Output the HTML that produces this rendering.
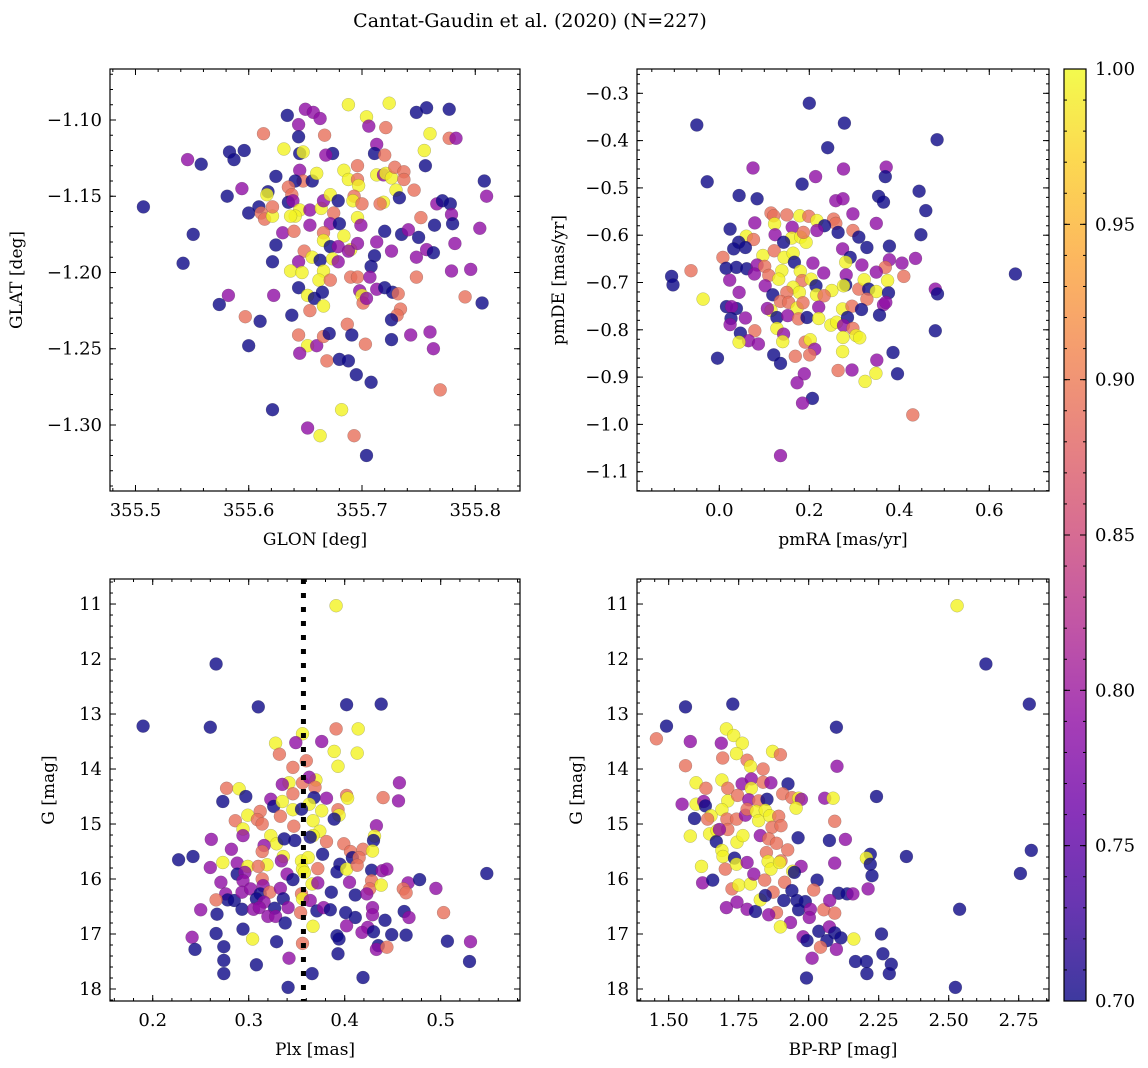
<!DOCTYPE html>
<html><head><meta charset="utf-8">
<style>
html,body{margin:0;padding:0;background:#fff;}
svg{display:block;font-family:"DejaVu Serif","Liberation Serif",serif;}
</style></head>
<body>
<svg id="fig" width="1148" height="1068" viewBox="0 0 1148 1068" xmlns="http://www.w3.org/2000/svg">
<defs>
<linearGradient id="plasmaGrad" x1="0" y1="1" x2="0" y2="0">
<stop offset="0" stop-color="#0d0887"/><stop offset="0.1" stop-color="#41049d"/><stop offset="0.2" stop-color="#6a00a8"/><stop offset="0.3" stop-color="#8f0da4"/><stop offset="0.4" stop-color="#b12a90"/><stop offset="0.5" stop-color="#cc4778"/><stop offset="0.6" stop-color="#e16462"/><stop offset="0.7" stop-color="#f2844b"/><stop offset="0.8" stop-color="#fca636"/><stop offset="0.9" stop-color="#fcce25"/><stop offset="1" stop-color="#f0f921"/>
</linearGradient>
</defs>
<text x="530" y="27" font-size="19" text-anchor="middle">Cantat-Gaudin et al. (2020) (N=227)</text>
</svg>
<script>
const N=0.70,P=0.79,S=0.89,Y=0.995;
const panel1Points=[[355.507,-1.157,N],[355.546,-1.126,P],[355.558,-1.129,N],[355.551,-1.175,N],[355.542,-1.194,N],[355.583,-1.121,N],[355.587,-1.126,N],[355.596,-1.120,N],[355.581,-1.150,N],[355.594,-1.145,P],[355.600,-1.161,N],[355.609,-1.157,N],[355.611,-1.161,S],[355.614,-1.165,S],[355.613,-1.109,S],[355.617,-1.147,N],[355.616,-1.149,Y],[355.621,-1.163,Y],[355.621,-1.157,S],[355.624,-1.137,N],[355.624,-1.182,N],[355.621,-1.193,N],[355.634,-1.097,N],[355.644,-1.103,P],[355.650,-1.093,P],[355.657,-1.095,P],[355.663,-1.099,P],[355.644,-1.111,N],[355.631,-1.119,Y],[355.645,-1.122,N],[355.648,-1.121,Y],[355.667,-1.110,S],[355.674,-1.122,N],[355.668,-1.123,P],[355.645,-1.133,P],[355.648,-1.140,S],[355.656,-1.140,N],[355.660,-1.135,Y],[355.641,-1.140,N],[355.635,-1.144,S],[355.638,-1.149,S],[355.635,-1.154,N],[355.639,-1.153,P],[355.645,-1.159,Y],[355.641,-1.163,Y],[355.637,-1.163,Y],[355.630,-1.174,P],[355.640,-1.173,S],[355.654,-1.159,P],[355.654,-1.169,P],[355.664,-1.158,Y],[355.666,-1.153,P],[355.672,-1.149,Y],[355.675,-1.161,S],[355.679,-1.153,N],[355.684,-1.133,Y],[355.688,-1.139,Y],[355.696,-1.139,S],[355.697,-1.143,Y],[355.696,-1.130,S],[355.693,-1.150,S],[355.692,-1.153,Y],[355.700,-1.155,S],[355.696,-1.164,Y],[355.699,-1.169,P],[355.672,-1.168,P],[355.680,-1.168,N],[355.666,-1.174,S],[355.684,-1.176,Y],[355.666,-1.179,Y],[355.672,-1.183,N],[355.679,-1.183,P],[355.690,-1.185,Y],[355.696,-1.181,P],[355.688,-1.186,P],[355.649,-1.186,S],[355.644,-1.193,P],[355.656,-1.190,Y],[355.663,-1.192,N],[355.674,-1.191,Y],[355.679,-1.193,P],[355.666,-1.199,Y],[355.637,-1.199,Y],[355.647,-1.200,Y],[355.662,-1.205,Y],[355.672,-1.205,S],[355.644,-1.210,N],[355.622,-1.215,P],[355.652,-1.215,Y],[355.658,-1.217,N],[355.665,-1.213,N],[355.666,-1.222,Y],[355.654,-1.225,S],[355.638,-1.228,N],[355.610,-1.232,N],[355.597,-1.229,S],[355.582,-1.215,P],[355.574,-1.221,N],[355.600,-1.248,N],[355.644,-1.241,S],[355.652,-1.248,Y],[355.660,-1.248,P],[355.645,-1.253,P],[355.666,-1.242,S],[355.671,-1.240,N],[355.669,-1.258,S],[355.680,-1.257,N],[355.688,-1.258,N],[355.687,-1.234,S],[355.691,-1.241,N],[355.703,-1.247,S],[355.695,-1.267,N],[355.708,-1.272,N],[355.621,-1.290,N],[355.652,-1.302,P],[355.663,-1.307,Y],[355.682,-1.290,Y],[355.693,-1.307,S],[355.704,-1.320,N],[355.688,-1.090,Y],[355.704,-1.098,Y],[355.706,-1.104,P],[355.721,-1.105,S],[355.724,-1.089,Y],[355.713,-1.116,P],[355.711,-1.122,N],[355.720,-1.123,S],[355.713,-1.136,Y],[355.719,-1.136,P],[355.721,-1.135,Y],[355.726,-1.138,Y],[355.729,-1.131,S],[355.737,-1.134,S],[355.737,-1.139,S],[355.730,-1.146,Y],[355.733,-1.151,N],[355.719,-1.154,Y],[355.716,-1.155,S],[355.720,-1.173,N],[355.735,-1.175,N],[355.741,-1.172,P],[355.750,-1.177,N],[355.713,-1.180,P],[355.726,-1.186,P],[355.711,-1.189,N],[355.708,-1.196,N],[355.690,-1.203,S],[355.696,-1.203,S],[355.707,-1.203,P],[355.698,-1.212,P],[355.700,-1.215,Y],[355.701,-1.220,S],[355.704,-1.217,P],[355.713,-1.211,P],[355.720,-1.210,N],[355.727,-1.213,N],[355.732,-1.214,S],[355.734,-1.224,S],[355.731,-1.228,S],[355.726,-1.231,N],[355.726,-1.244,N],[355.743,-1.241,P],[355.748,-1.203,S],[355.748,-1.190,P],[355.757,-1.185,P],[355.763,-1.187,N],[355.764,-1.169,N],[355.752,-1.164,S],[355.746,-1.146,S],[355.748,-1.095,N],[355.757,-1.092,N],[355.777,-1.093,N],[355.760,-1.109,Y],[355.755,-1.120,Y],[355.756,-1.130,N],[355.777,-1.112,S],[355.783,-1.112,P],[355.766,-1.155,P],[355.771,-1.153,N],[355.778,-1.155,N],[355.779,-1.162,P],[355.780,-1.168,N],[355.782,-1.181,P],[355.779,-1.199,P],[355.796,-1.198,P],[355.791,-1.216,S],[355.804,-1.171,P],[355.806,-1.220,N],[355.808,-1.140,N],[355.810,-1.150,P],[355.760,-1.239,P],[355.763,-1.250,P],[355.769,-1.277,S]];
const panel2Points=[[-0.050,-0.367,N],[0.200,-0.321,N],[0.278,-0.363,N],[0.241,-0.415,N],[0.484,-0.398,N],[-0.027,-0.487,N],[0.075,-0.458,P],[0.214,-0.476,P],[0.184,-0.492,N],[0.276,-0.460,P],[0.371,-0.456,P],[0.369,-0.476,N],[0.044,-0.516,N],[0.084,-0.523,N],[0.354,-0.518,N],[0.365,-0.530,N],[0.259,-0.527,P],[0.275,-0.523,P],[0.444,-0.507,N],[0.459,-0.548,N],[0.448,-0.599,N],[0.297,-0.555,P],[0.349,-0.575,P],[0.115,-0.553,S],[0.121,-0.559,S],[0.150,-0.557,S],[0.179,-0.559,Y],[0.199,-0.560,S],[0.217,-0.569,Y],[0.254,-0.566,S],[0.259,-0.575,S],[0.234,-0.580,N],[0.079,-0.574,P],[0.123,-0.576,Y],[0.162,-0.583,P],[0.217,-0.590,P],[0.264,-0.594,N],[0.297,-0.590,S],[0.024,-0.587,N],[0.060,-0.602,Y],[0.076,-0.609,S],[0.043,-0.615,N],[0.032,-0.629,N],[0.058,-0.626,N],[0.124,-0.599,P],[0.161,-0.606,Y],[0.181,-0.604,Y],[0.193,-0.615,Y],[0.187,-0.594,S],[0.143,-0.615,N],[0.310,-0.604,N],[0.328,-0.626,N],[0.378,-0.623,N],[0.274,-0.629,P],[0.291,-0.647,N],[0.008,-0.647,S],[0.097,-0.643,Y],[0.122,-0.633,S],[0.144,-0.647,Y],[0.164,-0.638,Y],[0.167,-0.657,N],[0.208,-0.659,P],[0.281,-0.657,Y],[0.317,-0.663,P],[0.436,-0.649,P],[0.406,-0.659,P],[0.378,-0.652,P],[0.369,-0.668,S],[-0.063,-0.675,S],[-0.106,-0.687,N],[-0.103,-0.705,N],[0.015,-0.670,N],[0.038,-0.668,N],[0.061,-0.671,N],[0.084,-0.663,P],[0.078,-0.682,P],[0.101,-0.666,S],[0.110,-0.685,S],[0.139,-0.675,Y],[0.132,-0.693,Y],[0.180,-0.676,Y],[0.184,-0.696,S],[0.204,-0.693,Y],[0.232,-0.680,P],[0.282,-0.684,P],[0.349,-0.678,P],[0.374,-0.696,Y],[0.410,-0.687,S],[0.023,-0.695,P],[0.044,-0.721,P],[0.102,-0.707,P],[0.119,-0.726,N],[0.164,-0.710,Y],[0.178,-0.721,Y],[0.150,-0.721,S],[0.215,-0.707,N],[0.216,-0.726,Y],[0.250,-0.717,Y],[0.233,-0.728,S],[0.281,-0.705,N],[0.276,-0.707,Y],[0.310,-0.714,S],[0.322,-0.694,Y],[0.332,-0.714,N],[0.349,-0.719,Y],[0.376,-0.722,N],[0.328,-0.735,S],[0.480,-0.714,P],[0.485,-0.724,N],[-0.036,-0.735,Y],[0.016,-0.751,N],[0.038,-0.755,N],[0.027,-0.751,P],[0.136,-0.740,S],[0.154,-0.742,S],[0.115,-0.759,Y],[0.107,-0.755,P],[0.173,-0.754,Y],[0.186,-0.743,S],[0.221,-0.752,P],[0.274,-0.756,Y],[0.295,-0.750,S],[0.316,-0.757,N],[0.365,-0.747,P],[0.356,-0.769,N],[0.370,-0.742,P],[0.026,-0.776,N],[0.058,-0.775,P],[0.128,-0.774,N],[0.152,-0.770,P],[0.176,-0.777,S],[0.195,-0.774,N],[0.221,-0.776,Y],[0.248,-0.790,Y],[0.261,-0.784,Y],[0.285,-0.774,N],[0.024,-0.789,P],[0.128,-0.797,Y],[0.143,-0.809,P],[0.276,-0.791,P],[0.297,-0.797,S],[0.304,-0.812,Y],[0.312,-0.817,Y],[0.275,-0.816,Y],[0.047,-0.807,N],[0.079,-0.802,S],[0.065,-0.823,P],[0.044,-0.826,Y],[0.087,-0.830,P],[0.141,-0.825,Y],[0.191,-0.826,S],[0.202,-0.821,Y],[0.212,-0.841,P],[0.201,-0.853,S],[0.169,-0.856,S],[0.121,-0.853,N],[0.136,-0.871,N],[-0.004,-0.860,N],[0.274,-0.846,Y],[0.386,-0.848,N],[0.350,-0.864,P],[0.480,-0.802,N],[0.264,-0.886,S],[0.295,-0.885,P],[0.348,-0.892,Y],[0.324,-0.909,Y],[0.396,-0.893,N],[0.189,-0.893,P],[0.173,-0.912,P],[0.207,-0.945,N],[0.185,-0.955,P],[0.430,-0.980,S],[0.136,-1.066,P],[0.658,-0.682,N]];
const panel3Points=[[0.190,13.22,N],[0.266,12.09,N],[0.260,13.24,N],[0.310,12.87,N],[0.402,12.83,N],[0.438,12.82,N],[0.391,11.03,Y],[0.356,13.36,Y],[0.414,13.27,Y],[0.391,13.27,S],[0.376,13.50,P],[0.349,13.52,P],[0.328,13.53,Y],[0.332,13.73,S],[0.389,13.68,Y],[0.413,13.71,Y],[0.393,13.95,Y],[0.346,13.97,S],[0.360,13.85,S],[0.370,14.20,Y],[0.342,14.25,Y],[0.335,14.28,P],[0.356,14.25,S],[0.363,14.15,P],[0.369,14.33,S],[0.457,14.25,P],[0.277,14.35,S],[0.290,14.36,Y],[0.297,14.50,N],[0.273,14.59,N],[0.323,14.55,P],[0.326,14.68,N],[0.335,14.59,Y],[0.346,14.45,S],[0.368,14.52,N],[0.363,14.64,Y],[0.381,14.53,P],[0.402,14.48,S],[0.403,14.53,Y],[0.440,14.52,S],[0.456,14.58,P],[0.299,14.84,Y],[0.312,14.77,S],[0.309,14.92,S],[0.314,15.00,S],[0.286,14.94,S],[0.333,14.86,S],[0.346,14.74,Y],[0.355,14.73,N],[0.376,14.76,Y],[0.367,14.94,Y],[0.393,14.74,S],[0.394,14.84,Y],[0.389,14.91,N],[0.294,15.09,Y],[0.294,15.21,P],[0.347,15.04,S],[0.374,15.13,Y],[0.367,15.21,Y],[0.433,15.03,P],[0.431,15.22,Y],[0.430,15.30,N],[0.323,15.21,Y],[0.329,15.36,Y],[0.337,15.27,N],[0.348,15.30,N],[0.364,15.24,N],[0.381,15.32,S],[0.399,15.36,S],[0.261,15.28,P],[0.282,15.46,P],[0.316,15.39,P],[0.314,15.50,S],[0.336,15.59,Y],[0.334,15.67,P],[0.355,15.67,Y],[0.362,15.61,Y],[0.377,15.55,N],[0.406,15.50,S],[0.408,15.61,N],[0.419,15.46,S],[0.415,15.61,S],[0.429,15.49,Y],[0.227,15.65,N],[0.242,15.59,N],[0.273,15.70,Y],[0.260,15.79,P],[0.288,15.71,P],[0.299,15.77,Y],[0.319,15.74,Y],[0.310,15.77,S],[0.356,15.82,Y],[0.372,15.81,S],[0.395,15.73,N],[0.392,15.87,N],[0.402,15.82,Y],[0.413,15.75,S],[0.428,15.84,N],[0.439,15.85,P],[0.444,15.82,P],[0.288,15.91,N],[0.296,15.88,P],[0.294,16.03,P],[0.314,16.00,S],[0.315,16.12,P],[0.340,15.91,P],[0.346,16.01,N],[0.358,15.88,Y],[0.366,16.09,Y],[0.372,16.07,P],[0.405,16.06,P],[0.428,16.03,S],[0.426,16.18,S],[0.438,16.11,Y],[0.466,16.07,P],[0.478,16.01,N],[0.548,15.90,N],[0.271,16.06,P],[0.276,16.27,P],[0.278,16.38,N],[0.285,16.39,N],[0.293,16.24,P],[0.302,16.18,P],[0.312,16.27,N],[0.308,16.36,N],[0.322,16.24,S],[0.333,16.17,P],[0.316,16.42,P],[0.336,16.36,N],[0.355,16.27,S],[0.356,16.36,Y],[0.364,16.39,P],[0.386,16.24,N],[0.411,16.29,N],[0.423,16.27,P],[0.461,16.18,S],[0.464,16.25,S],[0.495,16.17,P],[0.266,16.38,S],[0.250,16.56,P],[0.267,16.64,N],[0.293,16.55,N],[0.305,16.55,P],[0.311,16.52,P],[0.327,16.53,N],[0.320,16.68,P],[0.328,16.68,P],[0.341,16.52,P],[0.338,16.80,N],[0.354,16.61,S],[0.371,16.58,N],[0.378,16.52,P],[0.385,16.56,N],[0.401,16.61,N],[0.411,16.70,N],[0.429,16.52,P],[0.429,16.65,P],[0.442,16.75,N],[0.462,16.59,N],[0.467,16.70,P],[0.503,16.61,S],[0.367,16.86,Y],[0.402,16.85,P],[0.424,16.88,P],[0.418,16.97,P],[0.430,16.96,N],[0.449,17.01,N],[0.464,17.02,N],[0.392,17.03,N],[0.394,17.09,N],[0.266,16.99,N],[0.294,16.91,N],[0.241,17.06,P],[0.304,17.09,Y],[0.329,17.14,N],[0.356,17.17,S],[0.244,17.28,N],[0.274,17.23,N],[0.274,17.48,N],[0.274,17.72,N],[0.308,17.56,N],[0.342,17.44,P],[0.393,17.36,N],[0.435,17.21,N],[0.433,17.28,P],[0.444,17.24,S],[0.507,17.13,N],[0.531,17.14,P],[0.530,17.50,N],[0.366,17.72,N],[0.419,17.79,N],[0.341,17.97,N]];
const panel4Points=[[2.530,11.03,Y],[2.633,12.09,N],[2.788,12.82,N],[1.560,12.87,N],[1.729,12.82,N],[1.492,13.22,N],[2.099,13.24,N],[1.456,13.45,S],[1.577,13.50,P],[1.688,13.53,P],[1.706,13.27,Y],[1.732,13.39,Y],[1.763,13.53,Y],[1.742,13.72,Y],[1.693,13.80,S],[1.780,13.84,S],[1.792,13.95,Y],[1.837,14.00,S],[1.871,13.68,Y],[1.899,13.74,S],[2.101,13.95,P],[1.560,13.94,S],[1.598,14.25,Y],[1.633,14.35,S],[1.690,14.20,Y],[1.711,14.35,S],[1.762,14.27,P],[1.795,14.18,P],[1.795,14.35,Y],[1.837,14.24,S],[1.865,14.25,P],[1.926,14.27,N],[1.907,14.45,S],[1.940,14.52,S],[1.964,14.53,Y],[1.974,14.55,P],[1.955,14.71,Y],[2.057,14.53,P],[2.087,14.53,Y],[2.242,14.50,N],[1.548,14.64,P],[1.598,14.64,Y],[1.625,14.59,P],[1.631,14.67,N],[1.711,14.58,Y],[1.746,14.48,S],[1.786,14.56,P],[1.821,14.58,S],[1.851,14.55,N],[1.690,14.74,Y],[1.651,14.85,Y],[1.639,14.91,S],[1.592,14.90,N],[1.708,14.91,S],[1.742,14.91,S],[1.774,14.84,P],[1.780,14.73,S],[1.813,14.77,Y],[1.821,14.94,Y],[1.845,14.75,Y],[1.861,14.85,Y],[1.893,14.86,S],[1.869,15.06,S],[1.901,15.03,S],[2.093,14.95,S],[1.577,15.22,Y],[1.646,15.18,Y],[1.673,15.12,Y],[1.670,15.32,N],[1.711,15.10,S],[1.681,15.10,P],[1.744,15.33,Y],[1.765,15.21,Y],[1.827,15.21,P],[1.857,15.27,S],[1.885,15.35,S],[1.962,15.25,N],[2.074,15.30,N],[2.131,15.28,P],[1.690,15.48,Y],[1.694,15.59,Y],[1.735,15.62,N],[1.702,15.82,S],[1.742,15.73,Y],[1.780,15.70,P],[1.849,15.52,S],[1.925,15.47,S],[1.901,15.67,S],[1.855,15.68,Y],[1.865,15.82,Y],[1.896,15.70,Y],[1.973,15.77,P],[1.943,15.86,Y],[2.093,15.71,P],[2.220,15.55,N],[2.206,15.62,Y],[2.220,15.73,N],[2.349,15.59,N],[2.795,15.48,N],[1.617,15.77,Y],[1.621,16.07,P],[1.657,16.02,N],[1.726,16.18,S],[1.750,16.11,Y],[1.792,16.09,Y],[1.804,15.91,P],[1.843,16.02,S],[1.873,16.24,S],[1.914,16.06,S],[1.949,15.88,N],[2.030,16.02,N],[2.018,16.20,S],[1.940,16.21,N],[2.226,15.94,N],[2.212,16.18,P],[2.107,16.26,N],[2.137,16.27,N],[2.158,16.27,P],[2.756,15.90,N],[1.706,16.52,P],[1.744,16.42,P],[1.780,16.55,P],[1.810,16.59,N],[1.827,16.38,Y],[1.845,16.30,N],[1.911,16.39,N],[1.958,16.39,N],[1.988,16.41,N],[1.885,16.61,S],[1.857,16.65,P],[1.935,16.79,P],[1.899,16.87,Y],[1.964,16.56,N],[2.006,16.55,P],[2.054,16.56,S],[2.093,16.62,S],[2.075,16.39,P],[2.002,16.70,P],[2.036,16.95,N],[2.074,16.87,P],[2.093,16.98,N],[2.115,17.07,N],[2.065,17.12,N],[1.980,17.05,P],[1.994,17.12,N],[2.042,17.24,S],[2.099,17.28,P],[2.161,17.09,Y],[2.260,17.00,N],[2.012,17.44,P],[2.167,17.50,N],[2.206,17.50,N],[2.265,17.36,N],[2.295,17.55,N],[2.208,17.72,N],[2.288,17.72,N],[1.992,17.80,N],[2.524,17.97,N],[2.539,16.55,N]];
const plxMedian=0.357;
const cbarTicks=[0.70,0.75,0.80,0.85,0.90,0.95,1.00];
const cbarTickLabels=["0.70","0.75","0.80","0.85","0.90","0.95","1.00"];
const cbarMin=0.70, cbarMax=1.00;

const NS="http://www.w3.org/2000/svg";
const svg=document.getElementById('fig');
function mk(tag,attrs,parent){const e=document.createElementNS(NS,tag);for(const k in attrs)e.setAttribute(k,attrs[k]);(parent||svg).appendChild(e);return e;}
const stops=[[0,[13,8,135]],[0.1,[65,4,157]],[0.2,[106,0,168]],[0.3,[143,13,164]],[0.4,[177,42,144]],[0.5,[204,71,120]],[0.6,[225,100,98]],[0.7,[242,132,75]],[0.8,[252,166,54]],[0.9,[252,206,37]],[1,[240,249,33]]];
function plasma(v){let t=(v-cbarMin)/(cbarMax-cbarMin);t=Math.max(0,Math.min(1,t));for(let i=0;i<stops.length-1;i++){const a=stops[i],b=stops[i+1];if(t<=b[0]){const f=(t-a[0])/(b[0]-a[0]);const c=a[1].map((x,j)=>Math.round(x+(b[1][j]-x)*f));return 'rgb('+c.join(',')+')';}}return 'rgb(240,249,33)';}
function fmtTick(v,dec){const s=Math.abs(v).toFixed(dec);return (v<-1e-9?'\u2212':'')+s;}
const FS=18;

function panel(cfg){
  const g=mk('g',{});
  
  
  const {x0,y0,x1,y1}=cfg;
  const sx=v=>x0+(v-cfg.xmin)/(cfg.xmax-cfg.xmin)*(x1-x0);
  const sy=v=>y1-(v-cfg.ymin)/(cfg.ymax-cfg.ymin)*(y1-y0);
  const cl='clip-'+cfg.name;
  const cp=mk('clipPath',{id:cl},g);mk('rect',{x:x0,y:y0,width:x1-x0,height:y1-y0},cp);
  const pts=mk('g',{'clip-path':'url(#'+cl+')'},g);
  
  
  cfg.data.forEach(d=>{
    const c=mk('circle',{cx:sx(d[0]).toFixed(1),cy:sy(d[1]).toFixed(1),r:6.5,fill:plasma(d[2]),'fill-opacity':0.8,stroke:'rgba(60,60,60,0.35)','stroke-width':0.5},pts);
    
    
  });
  if(cfg.vline!==undefined){
    const l=mk('line',{x1:sx(cfg.vline),x2:sx(cfg.vline),y1:y0,y2:y1,stroke:'#000','stroke-width':5,'stroke-dasharray':'5 9'},pts);
    
    
  }
  const tk=mk('g',{stroke:'#000','stroke-width':1},g);
  
  
  const eps=1e-9;
  function range(a,b,st){const r=[];const s=Math.ceil((a-eps)/st);for(let i=s;i*st<=b+eps;i++)r.push(i*st);return r;}
  range(cfg.xmin,cfg.xmax,cfg.xminor).forEach(v=>{const X=sx(v);mk('line',{x1:X,x2:X,y1:y1,y2:y1-3},tk);mk('line',{x1:X,x2:X,y1:y0,y2:y0+3},tk);});
  range(cfg.ymin,cfg.ymax,cfg.yminor).forEach(v=>{const Yp=sy(v);mk('line',{x1:x0,x2:x0+3,y1:Yp,y2:Yp},tk);mk('line',{x1:x1,x2:x1-3,y1:Yp,y2:Yp},tk);});
  range(cfg.xmin,cfg.xmax,cfg.xmajor).forEach(v=>{const X=sx(v);mk('line',{x1:X,x2:X,y1:y1,y2:y1-6},tk);mk('line',{x1:X,x2:X,y1:y0,y2:y0+6},tk);
    const t=mk('text',{x:X,y:y1+25,'font-size':FS,'text-anchor':'middle'},g);t.textContent=fmtTick(v,cfg.xdec);
    });
  range(cfg.ymin,cfg.ymax,cfg.ymajor).forEach(v=>{const Yp=sy(v);mk('line',{x1:x0,x2:x0+6,y1:Yp,y2:Yp},tk);mk('line',{x1:x1,x2:x1-6,y1:Yp,y2:Yp},tk);
    const lv=cfg.flipY?-v:v;
    const t=mk('text',{x:x0-8,y:Yp+6,'font-size':FS,'text-anchor':'end'},g);t.textContent=fmtTick(lv,cfg.ydec);
    });
  const fr=mk('rect',{x:x0,y:y0,width:x1-x0,height:y1-y0,fill:'none',stroke:'#000','stroke-width':1.2},g);
  
  const xl=mk('text',{x:(x0+x1)/2,y:y1+54,'font-size':17,'text-anchor':'middle'},g);xl.textContent=cfg.xlabel;
  
  const yx=cfg.ylabelX, yy=(y0+y1)/2;
  const yl=mk('text',{x:yx,y:yy,'font-size':17,'text-anchor':'middle',transform:'rotate(-90 '+yx+' '+yy+')'},g);yl.textContent=cfg.ylabel;
  
}

panel({name:'glon-glat-panel',x0:110,y0:69,x1:520,y1:491,xmin:355.4775,xmax:355.8395,ymin:-1.34328,ymax:-1.06656,xmajor:0.1,xminor:0.02,ymajor:0.05,yminor:0.01,xdec:1,ydec:2,data:panel1Points,xlabel:'GLON [deg]',ylabel:'GLAT [deg]',ylabelX:22});
panel({name:'pm-panel',x0:637,y0:69,x1:1049,y1:491,xmin:-0.1829,xmax:0.7327,ymin:-1.1408,ymax:-0.2486,xmajor:0.2,xminor:0.05,ymajor:0.1,yminor:0.02,xdec:1,ydec:1,data:panel2Points,xlabel:'pmRA [mas/yr]',ylabel:'pmDE [mas/yr]',ylabelX:564});
panel({name:'plx-g-panel',x0:110,y0:579,x1:520,y1:1001,xmin:0.1555,xmax:0.5826,ymin:-18.218,ymax:-10.545,xmajor:0.1,xminor:0.02,ymajor:1,yminor:0.2,xdec:1,ydec:0,data:panel3Points.map(d=>[d[0],-d[1],d[2]]),xlabel:'Plx [mas]',ylabel:'G [mag]',ylabelX:54,vline:plxMedian,flipY:true});
panel({name:'cmd-panel',x0:637,y0:579,x1:1049,y1:1001,xmin:1.3868,xmax:2.8582,ymin:-18.218,ymax:-10.545,xmajor:0.25,xminor:0.05,ymajor:1,yminor:0.2,xdec:2,ydec:0,data:panel4Points.map(d=>[d[0],-d[1],d[2]]),xlabel:'BP-RP [mag]',ylabel:'G [mag]',ylabelX:582,flipY:true});

const cb=mk('g',{});


const cbx0=1064,cbx1=1086,cby0=69,cby1=1001;
const cs=v=>cby1-(v-cbarMin)/(cbarMax-cbarMin)*(cby1-cby0);
mk('rect',{x:cbx0,y:cby0,width:cbx1-cbx0,height:cby1-cby0,fill:'url(#plasmaGrad)','fill-opacity':0.8},cb);
for(let i=0;i<=30;i++){const v=cbarMin+i*0.01;const Yp=cs(v);mk('line',{x1:cbx1,x2:cbx1-3,y1:Yp,y2:Yp,stroke:'#000','stroke-width':1},cb);mk('line',{x1:cbx0,x2:cbx0+3,y1:Yp,y2:Yp,stroke:'#000','stroke-width':1},cb);}
cbarTicks.forEach((v,i)=>{const Yp=cs(v);mk('line',{x1:cbx1,x2:cbx1-6,y1:Yp,y2:Yp,stroke:'#000','stroke-width':1},cb);mk('line',{x1:cbx0,x2:cbx0+6,y1:Yp,y2:Yp,stroke:'#000','stroke-width':1},cb);
  const t=mk('text',{x:cbx1+9,y:Yp+6,'font-size':FS},cb);t.textContent=cbarTickLabels[i];
  });
mk('rect',{x:cbx0,y:cby0,width:cbx1-cbx0,height:cby1-cby0,fill:'none',stroke:'#000','stroke-width':1.2},cb);
</script>
</body></html>
